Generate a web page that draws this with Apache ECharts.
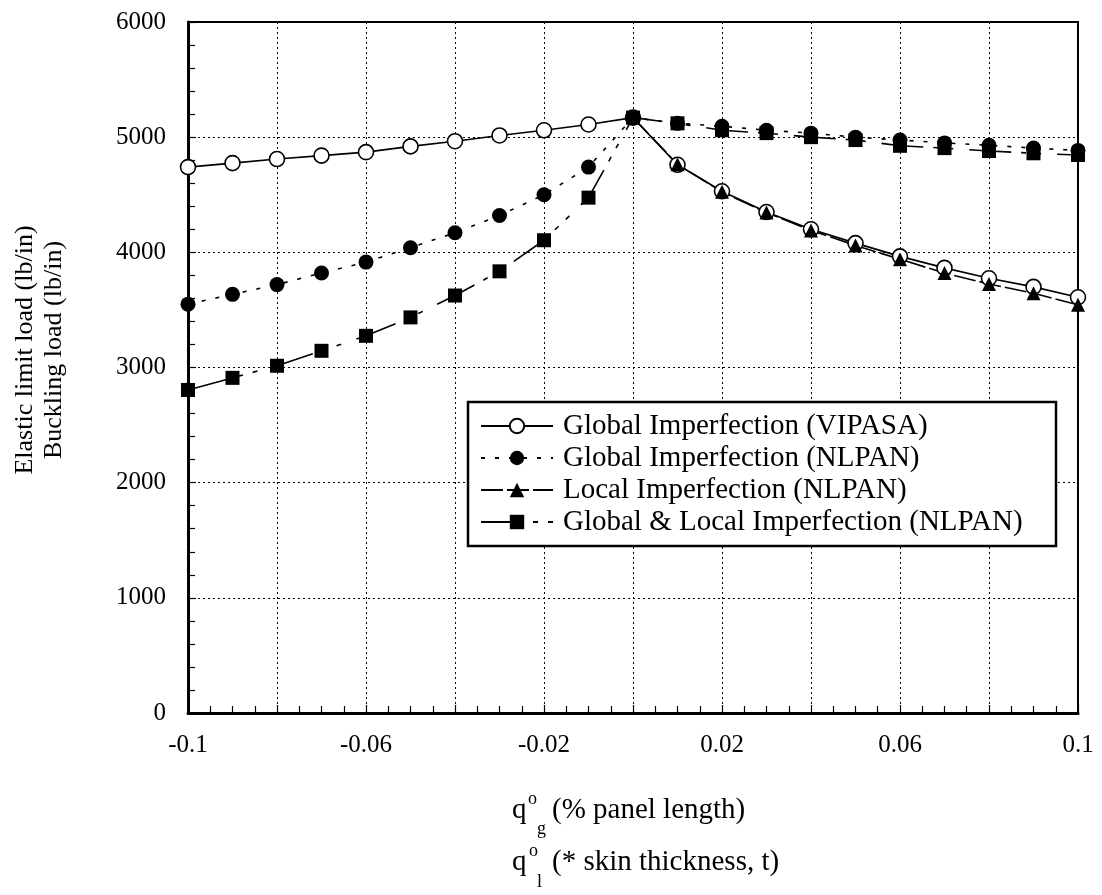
<!DOCTYPE html>
<html>
<head>
<meta charset="utf-8">
<title>Elastic limit load vs imperfection</title>
<script src="https://cdn.jsdelivr.net/npm/echarts@6/dist/echarts.min.js"></script>
<style>
  html, body { margin: 0; padding: 0; background: #fff; }
  #chart { width: 1102px; height: 895px; }
</style>
</head>
<body>
<div id="chart"></div>
<script>
// imperfection amplitude (x), 0.01 steps
const xValues = [-0.1, -0.09, -0.08, -0.07, -0.06, -0.05, -0.04, -0.03, -0.02, -0.01, 0,
  0.01, 0.02, 0.03, 0.04, 0.05, 0.06, 0.07, 0.08, 0.09, 0.1]
const xLocal = [0, 0.01, 0.02, 0.03, 0.04, 0.05, 0.06, 0.07, 0.08, 0.09, 0.1]

// loads in lb/in
const vipasaGlobal = [4740, 4775, 4810, 4840, 4870, 4920, 4965, 5015, 5060, 5110, 5170,
  4760, 4530, 4350, 4200, 4080, 3965, 3865, 3775, 3700, 3610]
const nlpanGlobal = [3550, 3635, 3720, 3820, 3915, 4040, 4170, 4320, 4500, 4740, 5170,
  5120, 5095, 5060, 5035, 5000, 4975, 4950, 4930, 4905, 4885]
const nlpanLocal = [5170, 4765, 4525, 4345, 4190, 4060, 3940, 3820, 3725, 3645, 3545]
const nlpanGlobalLocal = [2805, 2910, 3015, 3145, 3275, 3435, 3625, 3835, 4105, 4475, 5170,
  5120, 5060, 5035, 5000, 4975, 4925, 4905, 4880, 4860, 4845]

const seriesNames = [
  'Global Imperfection (VIPASA)',
  'Global Imperfection (NLPAN)',
  'Local Imperfection (NLPAN)',
  'Global & Local Imperfection (NLPAN)'
]

const FONT = 'Liberation Serif'

function pairs (xs, ys) {
  return xs.map((x, i) => [x, ys[i]])
}

const chart = echarts.init(document.getElementById('chart'))

chart.setOption({
  backgroundColor: '#fff',
  animation: false,
  textStyle: { fontFamily: FONT, color: '#000' },
  grid: {
    left: 188,
    right: 24,
    top: 22,
    bottom: 182,
    show: true,
    borderColor: '#000',
    borderWidth: 2,
    backgroundColor: 'transparent'
  },
  legend: {
    orient: 'vertical',
    left: 468,
    top: 402,
    padding: [8, 8, 8, 12],
    backgroundColor: '#fff',
    borderColor: '#000',
    borderWidth: 2.5,
    itemWidth: 72,
    itemHeight: 18,
    itemGap: 0,
    selectedMode: false,
    textStyle: {
      fontFamily: FONT,
      fontSize: 29,
      color: '#000',
      lineHeight: 32,
      width: 485,
      padding: [0, 0, 0, 5]
    },
    data: seriesNames
  },
  xAxis: {
    type: 'value',
    min: -0.1,
    max: 0.1,
    interval: 0.02,
    axisLine: { onZero: false, lineStyle: { color: '#000', width: 3 } },
    axisTick: { inside: true, length: 8, lineStyle: { color: '#000', width: 1.2 } },
    minorTick: { show: true, splitNumber: 4, length: 7, lineStyle: { color: '#000', width: 1.2 } },
    splitLine: { show: true, lineStyle: { color: '#000', type: [2, 3], width: 1 } },
    axisLabel: {
      fontFamily: FONT,
      fontSize: 25,
      color: '#000',
      margin: 20,
      showMinLabel: true,
      showMaxLabel: true,
      formatter: function (v) {
        // labels only every 0.04, grid every 0.02
        const idx = Math.round((v + 0.1) / 0.02)
        if (idx % 2 !== 0) return ''
        return String(parseFloat(v.toFixed(2)))
      }
    }
  },
  yAxis: {
    type: 'value',
    min: 0,
    max: 6000,
    interval: 1000,
    axisLine: { show: true, onZero: false, lineStyle: { color: '#000', width: 3 } },
    axisTick: { show: true, inside: true, length: 8, lineStyle: { color: '#000', width: 1.2 } },
    minorTick: { show: true, splitNumber: 5, length: 7, lineStyle: { color: '#000', width: 1.2 } },
    splitLine: { show: true, lineStyle: { color: '#000', type: [2, 3], width: 1 } },
    axisLabel: {
      fontFamily: FONT,
      fontSize: 25,
      color: '#000',
      margin: 22,
      formatter: function (v) {
        return String(v)
      }
    }
  },
  series: [
    {
      name: seriesNames[0],
      type: 'line',
      data: pairs(xValues, vipasaGlobal),
      symbol: 'circle',
      symbolSize: 15,
      showAllSymbol: true,
      lineStyle: { color: '#000', width: 1.6, type: 'solid' },
      itemStyle: { color: '#fff', borderColor: '#000', borderWidth: 1.6 }
    },
    {
      name: seriesNames[1],
      type: 'line',
      data: pairs(xValues, nlpanGlobal),
      symbol: 'circle',
      symbolSize: 15,
      showAllSymbol: true,
      lineStyle: { color: '#000', width: 1.6, type: [4, 10] },
      itemStyle: { color: '#000', borderColor: '#000', borderWidth: 0 }
    },
    {
      name: seriesNames[2],
      type: 'line',
      data: pairs(xLocal, nlpanLocal),
      symbol: 'triangle',
      symbolSize: 14,
      showAllSymbol: true,
      lineStyle: { color: '#000', width: 1.6, type: [22, 4] },
      itemStyle: { color: '#000', borderColor: '#000', borderWidth: 0 }
    },
    {
      name: seriesNames[3],
      type: 'line',
      data: pairs(xValues, nlpanGlobalLocal),
      symbol: 'rect',
      symbolSize: 14,
      showAllSymbol: true,
      lineStyle: { color: '#000', width: 1.6, type: [42, 10, 5, 10, 5, 16] },
      itemStyle: { color: '#000', borderColor: '#000', borderWidth: 0 }
    }
  ],
  graphic: [
    // y axis title, two rotated lines
    {
      type: 'text',
      x: 40,
      y: 350,
      rotation: Math.PI / 2,
      style: {
        text: 'Elastic limit load (lb/in)\nBuckling load (lb/in)',
        font: '26px "Liberation Serif"',
        lineHeight: 29,
        align: 'center',
        verticalAlign: 'middle',
        fill: '#000'
      }
    },
    // x axis title, line 1
    { type: 'text', x: 512, y: 810, style: { text: 'q', font: '29px "Liberation Serif"', verticalAlign: 'middle', fill: '#000' } },
    { type: 'text', x: 528, y: 799, style: { text: 'o', font: '18px "Liberation Serif"', verticalAlign: 'middle', fill: '#000' } },
    { type: 'text', x: 537, y: 829, style: { text: 'g', font: '18px "Liberation Serif"', verticalAlign: 'middle', fill: '#000' } },
    { type: 'text', x: 552, y: 810, style: { text: '(% panel length)', font: '29px "Liberation Serif"', verticalAlign: 'middle', fill: '#000' } },
    // x axis title, line 2
    { type: 'text', x: 512, y: 862, style: { text: 'q', font: '29px "Liberation Serif"', verticalAlign: 'middle', fill: '#000' } },
    { type: 'text', x: 529, y: 851, style: { text: 'o', font: '18px "Liberation Serif"', verticalAlign: 'middle', fill: '#000' } },
    { type: 'text', x: 537, y: 882, style: { text: 'l', font: '18px "Liberation Serif"', verticalAlign: 'middle', fill: '#000' } },
    { type: 'text', x: 552, y: 862, style: { text: '(* skin thickness, t)', font: '29px "Liberation Serif"', verticalAlign: 'middle', fill: '#000' } }
  ]
})
</script>
</body>
</html>
